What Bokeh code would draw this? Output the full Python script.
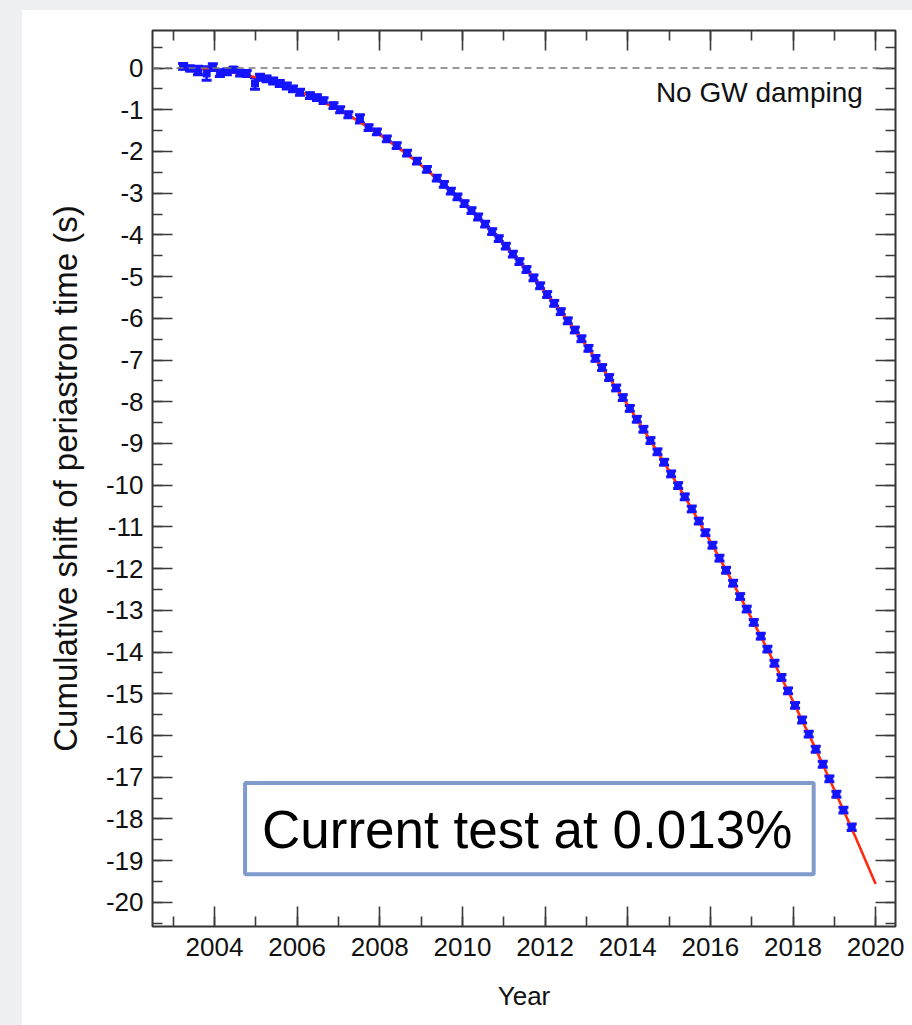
from bokeh.plotting import figure
from bokeh.models import (Range1d, SingleIntervalTicker, LinearAxis, Span, Whisker,
                          TeeHead, ColumnDataSource, BoxAnnotation, Label, Spacer,
                          PrintfTickFormatter)
from bokeh.layouts import column, row
from bokeh.embed import file_html
from bokeh.resources import INLINE

# Timing measurements: epoch (yr), cumulative periastron-time shift (s), 1-sigma error (s)
obs_year = [2003.24, 2003.41, 2003.60, 2003.81, 2003.96, 2004.13, 2004.30, 2004.46,
            2004.62, 2004.78, 2004.98, 2005.10, 2005.26, 2005.42, 2005.58, 2005.75,
            2005.90, 2006.07, 2006.31, 2006.48, 2006.64, 2006.88, 2007.04, 2007.24,
            2007.52, 2007.73, 2007.93, 2008.17, 2008.41, 2008.66, 2008.90, 2009.14,
            2009.38, 2009.55, 2009.72, 2009.88, 2010.05, 2010.22, 2010.38, 2010.55,
            2010.72, 2010.88, 2011.05, 2011.22, 2011.38, 2011.55, 2011.72, 2011.88,
            2012.05, 2012.22, 2012.38, 2012.55, 2012.72, 2012.88, 2013.05, 2013.22,
            2013.38, 2013.55, 2013.72, 2013.88, 2014.05, 2014.22, 2014.38, 2014.55,
            2014.72, 2014.88, 2015.05, 2015.22, 2015.38, 2015.55, 2015.72, 2015.88,
            2016.05, 2016.22, 2016.38, 2016.55, 2016.72, 2016.88, 2017.05, 2017.22,
            2017.38, 2017.55, 2017.72, 2017.88, 2018.05, 2018.22, 2018.38, 2018.55,
            2018.72, 2018.88, 2019.05, 2019.22, 2019.42]
obs_shift = [0.04, -0.01, -0.06, -0.13, 0.02, -0.12, -0.09, -0.04,
             -0.12, -0.13, -0.37, -0.22, -0.26, -0.31, -0.37, -0.43,
             -0.50, -0.58, -0.66, -0.71, -0.78, -0.90, -1.00, -1.12,
             -1.22, -1.43, -1.53, -1.70, -1.86, -2.04, -2.23, -2.43,
             -2.64, -2.79, -2.95, -3.09, -3.25, -3.42, -3.57, -3.74,
             -3.92, -4.09, -4.27, -4.46, -4.64, -4.83, -5.03, -5.22,
             -5.43, -5.64, -5.84, -6.06, -6.28, -6.49, -6.72, -6.96,
             -7.18, -7.42, -7.67, -7.90, -8.16, -8.42, -8.66, -8.93,
             -9.20, -9.45, -9.73, -10.01, -10.28, -10.57, -10.86, -11.14,
             -11.44, -11.75, -12.04, -12.35, -12.67, -12.97, -13.29, -13.62,
             -13.93, -14.27, -14.61, -14.93, -15.28, -15.63, -15.97, -16.33,
             -16.69, -17.04, -17.41, -17.79, -18.20]
obs_err = [0.07, 0.06, 0.10, 0.16, 0.08, 0.08, 0.07, 0.06,
           0.07, 0.07, 0.14, 0.07, 0.07, 0.07, 0.07, 0.07,
           0.07, 0.07, 0.07, 0.07, 0.07, 0.07, 0.07, 0.07,
           0.10, 0.07, 0.07, 0.07, 0.07, 0.07, 0.07, 0.07,
           0.07, 0.07, 0.07, 0.07, 0.07, 0.07, 0.07, 0.07,
           0.07, 0.07, 0.07, 0.07, 0.07, 0.07, 0.07, 0.07,
           0.07, 0.07, 0.07, 0.07, 0.07, 0.07, 0.07, 0.07,
           0.07, 0.07, 0.07, 0.07, 0.07, 0.07, 0.07, 0.07,
           0.07, 0.07, 0.07, 0.07, 0.07, 0.07, 0.07, 0.07,
           0.07, 0.07, 0.07, 0.07, 0.07, 0.07, 0.07, 0.07,
           0.07, 0.07, 0.07, 0.07, 0.07, 0.07, 0.07, 0.07,
           0.07, 0.07, 0.07, 0.07, 0.08]

# GR prediction for orbital decay by gravitational-wave emission
model_year = [2003.2, 2003.5, 2004.0, 2004.5, 2005.0, 2005.5, 2006.0, 2006.5, 2007.0,
              2007.5, 2008.0, 2008.5, 2009.0, 2009.5, 2010.0, 2010.5, 2011.0, 2011.5,
              2012.0, 2012.5, 2013.0, 2013.5, 2014.0, 2014.5, 2015.0, 2015.5, 2016.0,
              2016.5, 2017.0, 2017.5, 2018.0, 2018.5, 2019.0, 2019.5, 2020.0]
model_shift = [0.0, -0.01, -0.04, -0.12, -0.22, -0.37, -0.54, -0.75, -1.00,
               -1.28, -1.60, -1.95, -2.33, -2.75, -3.20, -3.69, -4.22, -4.77,
               -5.37, -5.99, -6.66, -7.35, -8.08, -8.85, -9.65, -10.48, -11.35,
               -12.26, -13.20, -14.17, -15.18, -16.22, -17.30, -18.41, -19.56]

FONT = "Liberation Sans"
BLUE = "#1414ff"
RED = "#ff2a10"
TICK = "#3a3a3a"
PAGE_BG = "#eef0f4"

p = figure(width=890, height=1015,
           x_range=Range1d(2002.5, 2020.48), y_range=Range1d(-20.58, 0.9),
           output_backend="svg", toolbar_location=None,
           min_border_left=130, min_border_right=17, min_border_top=20, min_border_bottom=99,
           background_fill_color="white", border_fill_color="white",
           outline_line_color="#333333", outline_line_width=2)
p.grid.visible = False


def style_axis(ax, show_labels):
    ax.axis_line_color = None
    ax.major_tick_in = 20
    ax.major_tick_out = 0
    ax.minor_tick_in = 10
    ax.minor_tick_out = 0
    ax.major_tick_line_color = TICK
    ax.minor_tick_line_color = TICK
    ax.major_tick_line_width = 1.6
    ax.minor_tick_line_width = 1.6
    if show_labels:
        ax.major_label_text_font = FONT
        ax.major_label_text_font_size = "26px"
        ax.major_label_text_color = "#111111"
    else:
        # mirrored tick marks only: labels are not drawn
        ax.major_label_text_font_size = "1px"
        ax.major_label_text_color = None
        ax.major_label_standoff = 0


xaxis = p.xaxis[0]
xaxis.ticker = SingleIntervalTicker(interval=2, num_minor_ticks=2)
style_axis(xaxis, True)
xaxis.major_label_standoff = 11
xaxis.axis_label = "Year"
xaxis.axis_label_text_font = FONT
xaxis.axis_label_text_font_size = "26px"
xaxis.axis_label_text_font_style = "normal"
xaxis.axis_label_text_color = "#111111"
xaxis.axis_label_standoff = 22

yaxis = p.yaxis[0]
yaxis.ticker = SingleIntervalTicker(interval=1, num_minor_ticks=2)
yaxis.formatter = PrintfTickFormatter(format="%d")
style_axis(yaxis, True)
yaxis.major_label_standoff = 9
yaxis.axis_label = "Cumulative shift of periastron time (s)"
yaxis.axis_label_text_font = FONT
yaxis.axis_label_text_font_size = "33px"
yaxis.axis_label_text_font_style = "normal"
yaxis.axis_label_text_color = "#111111"
yaxis.axis_label_standoff = 19

top_axis = LinearAxis(ticker=SingleIntervalTicker(interval=2, num_minor_ticks=2))
style_axis(top_axis, False)
p.add_layout(top_axis, "above")

right_axis = LinearAxis(ticker=SingleIntervalTicker(interval=1, num_minor_ticks=2))
style_axis(right_axis, False)
p.add_layout(right_axis, "right")

# Reference line: no gravitational-wave damping
p.add_layout(Span(location=0, dimension="width", line_color="#777777",
                  line_width=1.6, line_dash="7 5"))
p.add_layout(Label(x=2019.69, y=-0.58, text="No GW damping", text_align="right",
                   text_baseline="middle", text_font=FONT, text_font_size="28px",
                   text_color="#111111"))

# GR model curve
p.line(model_year, model_shift, line_color=RED, line_width=2.6)

# Measurements with error bars
src = ColumnDataSource(dict(
    t=obs_year, v=obs_shift,
    lo=[v - e for v, e in zip(obs_shift, obs_err)],
    hi=[v + e for v, e in zip(obs_shift, obs_err)],
))
p.add_layout(Whisker(source=src, base="t", lower="lo", upper="hi",
                     line_color=BLUE, line_width=2.5,
                     lower_head=TeeHead(size=10, line_color=BLUE, line_width=3),
                     upper_head=TeeHead(size=10, line_color=BLUE, line_width=3)))
p.scatter("t", "v", source=src, marker="square", size=7,
          fill_color=BLUE, line_color=BLUE)

# Result box
p.add_layout(BoxAnnotation(left=2004.74, right=2018.50, top=-17.14, bottom=-19.33,
                           fill_color="white", fill_alpha=1.0,
                           line_color="#7f9bcc", line_width=4, line_alpha=1.0))
p.add_layout(Label(x=2005.15, y=-18.25, text="Current test at 0.013%",
                   text_align="left", text_baseline="middle", text_font=FONT,
                   text_font_size="53px", text_color="#000000"))

top_band = Spacer(width=912, height=10, styles={"background-color": PAGE_BG})
left_band = Spacer(width=22, height=1015, styles={"background-color": PAGE_BG})
page = column(top_band, row(left_band, p, spacing=0), spacing=0)

open("out.html", "w").write(file_html(page, INLINE))
